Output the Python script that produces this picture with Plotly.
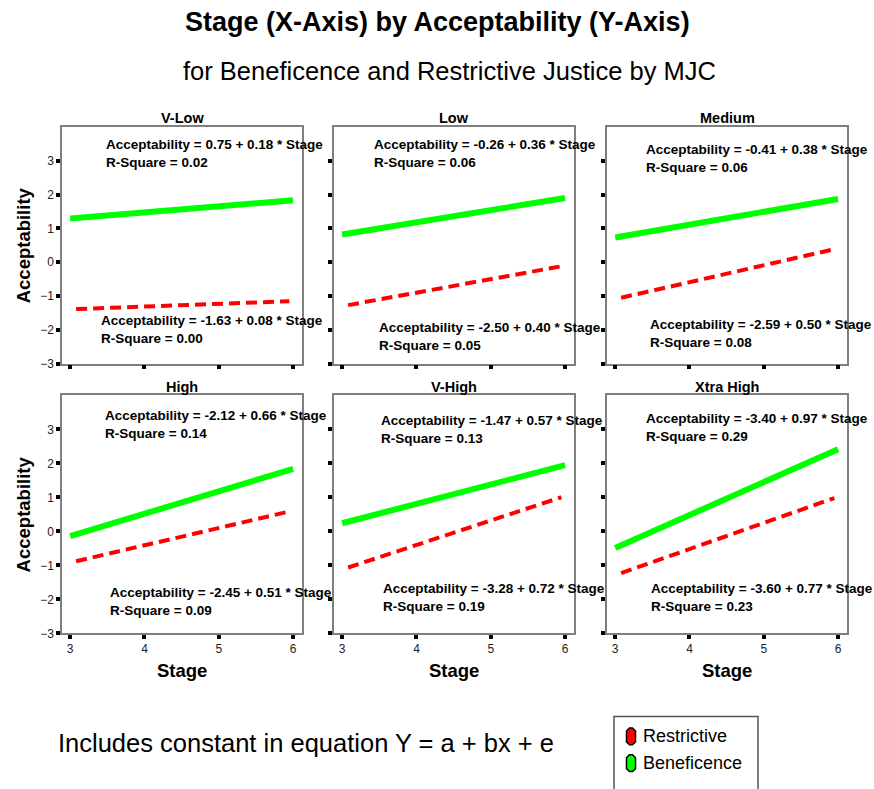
import plotly.graph_objects as go

# ---- data -------------------------------------------------------------
panels = ["V-Low", "Low", "Medium", "High", "V-High", "Xtra High"]

ben_intercept = [0.75, -0.26, -0.41, -2.12, -1.47, -3.40]
ben_slope = [0.18, 0.36, 0.38, 0.66, 0.57, 0.97]
ben_rsq = [0.02, 0.06, 0.06, 0.14, 0.13, 0.29]

res_intercept = [-1.63, -2.50, -2.59, -2.45, -3.28, -3.60]
res_slope = [0.08, 0.40, 0.50, 0.51, 0.72, 0.77]
res_rsq = [0.00, 0.05, 0.08, 0.09, 0.19, 0.23]

ben_stage_span = [3.0, 6.0]
res_stage_span = [3.08, 5.95]

stage_ticks = [3, 4, 5, 6]
acc_ticks = [-3, -2, -1, 0, 1, 2, 3]

# ---- layout geometry (pixels) ------------------------------------------
W, H = 874, 789
col_px = [(62, 302), (334, 574), (607, 847)]
row_px = [(128, 367), (399, 639)]

# equation label anchors: (left x, vertical centre of the two-line block)
ben_label_px = [(104, 155), (372, 155), (644, 160), (103, 428), (379, 433), (644, 431)]
res_label_px = [(99, 332), (377, 340), (648, 336), (108, 607), (381, 603), (649, 603)]


def px(x):
    return x / W


def py(y):
    return 1 - y / H


GREEN = "#00ff00"
RED = "#ff0000"
FONT = "Liberation Sans, Arial, sans-serif"


def label(x, y, text, size, xanchor="center", yanchor="middle", **kw):
    return dict(x=px(x), y=py(y), xref="paper", yref="paper", text=text,
                showarrow=False, xanchor=xanchor, yanchor=yanchor,
                font=dict(family=FONT, size=size, color="black"), **kw)


def equation(a, b, r2):
    return "<b>Acceptability = %.2f + %.2f * Stage<br>R-Square = %.2f</b>" % (a, b, r2)


fig = go.Figure()
annotations = []
shapes = []

for i, name in enumerate(panels):
    r, c = divmod(i, 3)
    n = "" if i == 0 else str(i + 1)
    xa, ya = "x" + n, "y" + n

    xs_b = ben_stage_span
    ys_b = [ben_intercept[i] + ben_slope[i] * s for s in xs_b]
    xs_r = res_stage_span
    ys_r = [res_intercept[i] + res_slope[i] * s for s in xs_r]

    fig.add_trace(go.Scatter(x=xs_r, y=ys_r, mode="lines", xaxis=xa, yaxis=ya,
                             line=dict(color=RED, width=4, dash="11px,6px"),
                             showlegend=False, hoverinfo="skip"))
    fig.add_trace(go.Scatter(x=xs_b, y=ys_b, mode="lines", xaxis=xa, yaxis=ya,
                             line=dict(color=GREEN, width=6),
                             showlegend=False, hoverinfo="skip"))

    x0, x1 = col_px[c]
    y0, y1 = row_px[r]
    axis_common = dict(showline=True, mirror=True, linecolor="#7f7f7f", linewidth=1.5,
                       showgrid=False, zeroline=False, ticks="outside", ticklen=4,
                       tickwidth=3.5, tickcolor="black",
                       tickfont=dict(family=FONT, size=12, color="#222"))
    fig.update_layout(**{
        ("xaxis" + n): dict(axis_common, domain=[px(x0), px(x1)], range=[2.89, 6.12],
                            tickvals=stage_ticks, showticklabels=(r == 1), anchor=ya),
        ("yaxis" + n): dict(axis_common, domain=[py(y1), py(y0)], range=[-3, 4],
                            tickvals=acc_ticks, showticklabels=(c == 0), anchor=xa),
    })

    # panel title
    annotations.append(label((x0 + x1) / 2, y0 - 9, "<b>%s</b>" % name, 14.5))

    # regression equations
    bx, by = ben_label_px[i]
    annotations.append(label(bx, by, equation(ben_intercept[i], ben_slope[i], ben_rsq[i]),
                             13.5, xanchor="left", align="left"))
    rx, ry = res_label_px[i]
    annotations.append(label(rx, ry, equation(res_intercept[i], res_slope[i], res_rsq[i]),
                             13.5, xanchor="left", align="left"))

# axis titles
for r in range(2):
    y0, y1 = row_px[r]
    annotations.append(label(23, (y0 + y1) / 2, "<b>Acceptability</b>", 18.5, textangle=-90))
for c in range(3):
    x0, x1 = col_px[c]
    annotations.append(label((x0 + x1) / 2, 677, "<b>Stage</b>", 18.5))

# titles
annotations.append(label(437, 22, "<b>Stage (X-Axis) by Acceptability (Y-Axis)</b>", 27))
annotations.append(label(449.5, 72, "for Beneficence and Restrictive Justice by MJC", 25.5))

# footnote
annotations.append(label(56, 750, "Includes constant in equation Y = a + bx + e", 25.5,
                         xanchor="left"))

# legend (box, pill swatches, labels)
shapes.append(dict(type="rect", xref="paper", yref="paper",
                   x0=px(614), x1=px(758), y0=py(810), y1=py(723),
                   line=dict(color="#555", width=1.5), fillcolor="white"))


def pill(cx, cy, w=9, h=17, k=3):
    pts = [(cx - w / 2 + k, cy - h / 2), (cx + w / 2 - k, cy - h / 2),
           (cx + w / 2, cy - h / 2 + k), (cx + w / 2, cy + h / 2 - k),
           (cx + w / 2 - k, cy + h / 2), (cx - w / 2 + k, cy + h / 2),
           (cx - w / 2, cy + h / 2 - k), (cx - w / 2, cy - h / 2 + k)]
    return "M " + " L ".join("%f,%f" % (px(a), py(b)) for a, b in pts) + " Z"


legend_items = [("Restrictive", RED, 743), ("Beneficence", GREEN, 770)]
for name, color, ly in legend_items:
    shapes.append(dict(type="path", xref="paper", yref="paper", path=pill(631, ly),
                       fillcolor=color, line=dict(color="black", width=1.5)))
    annotations.append(label(641, ly, name, 18, xanchor="left"))

fig.update_layout(width=W, height=H, margin=dict(l=0, r=0, t=0, b=0),
                  paper_bgcolor="white", plot_bgcolor="white",
                  annotations=annotations, shapes=shapes, showlegend=False)

fig.write_html("out.html")
